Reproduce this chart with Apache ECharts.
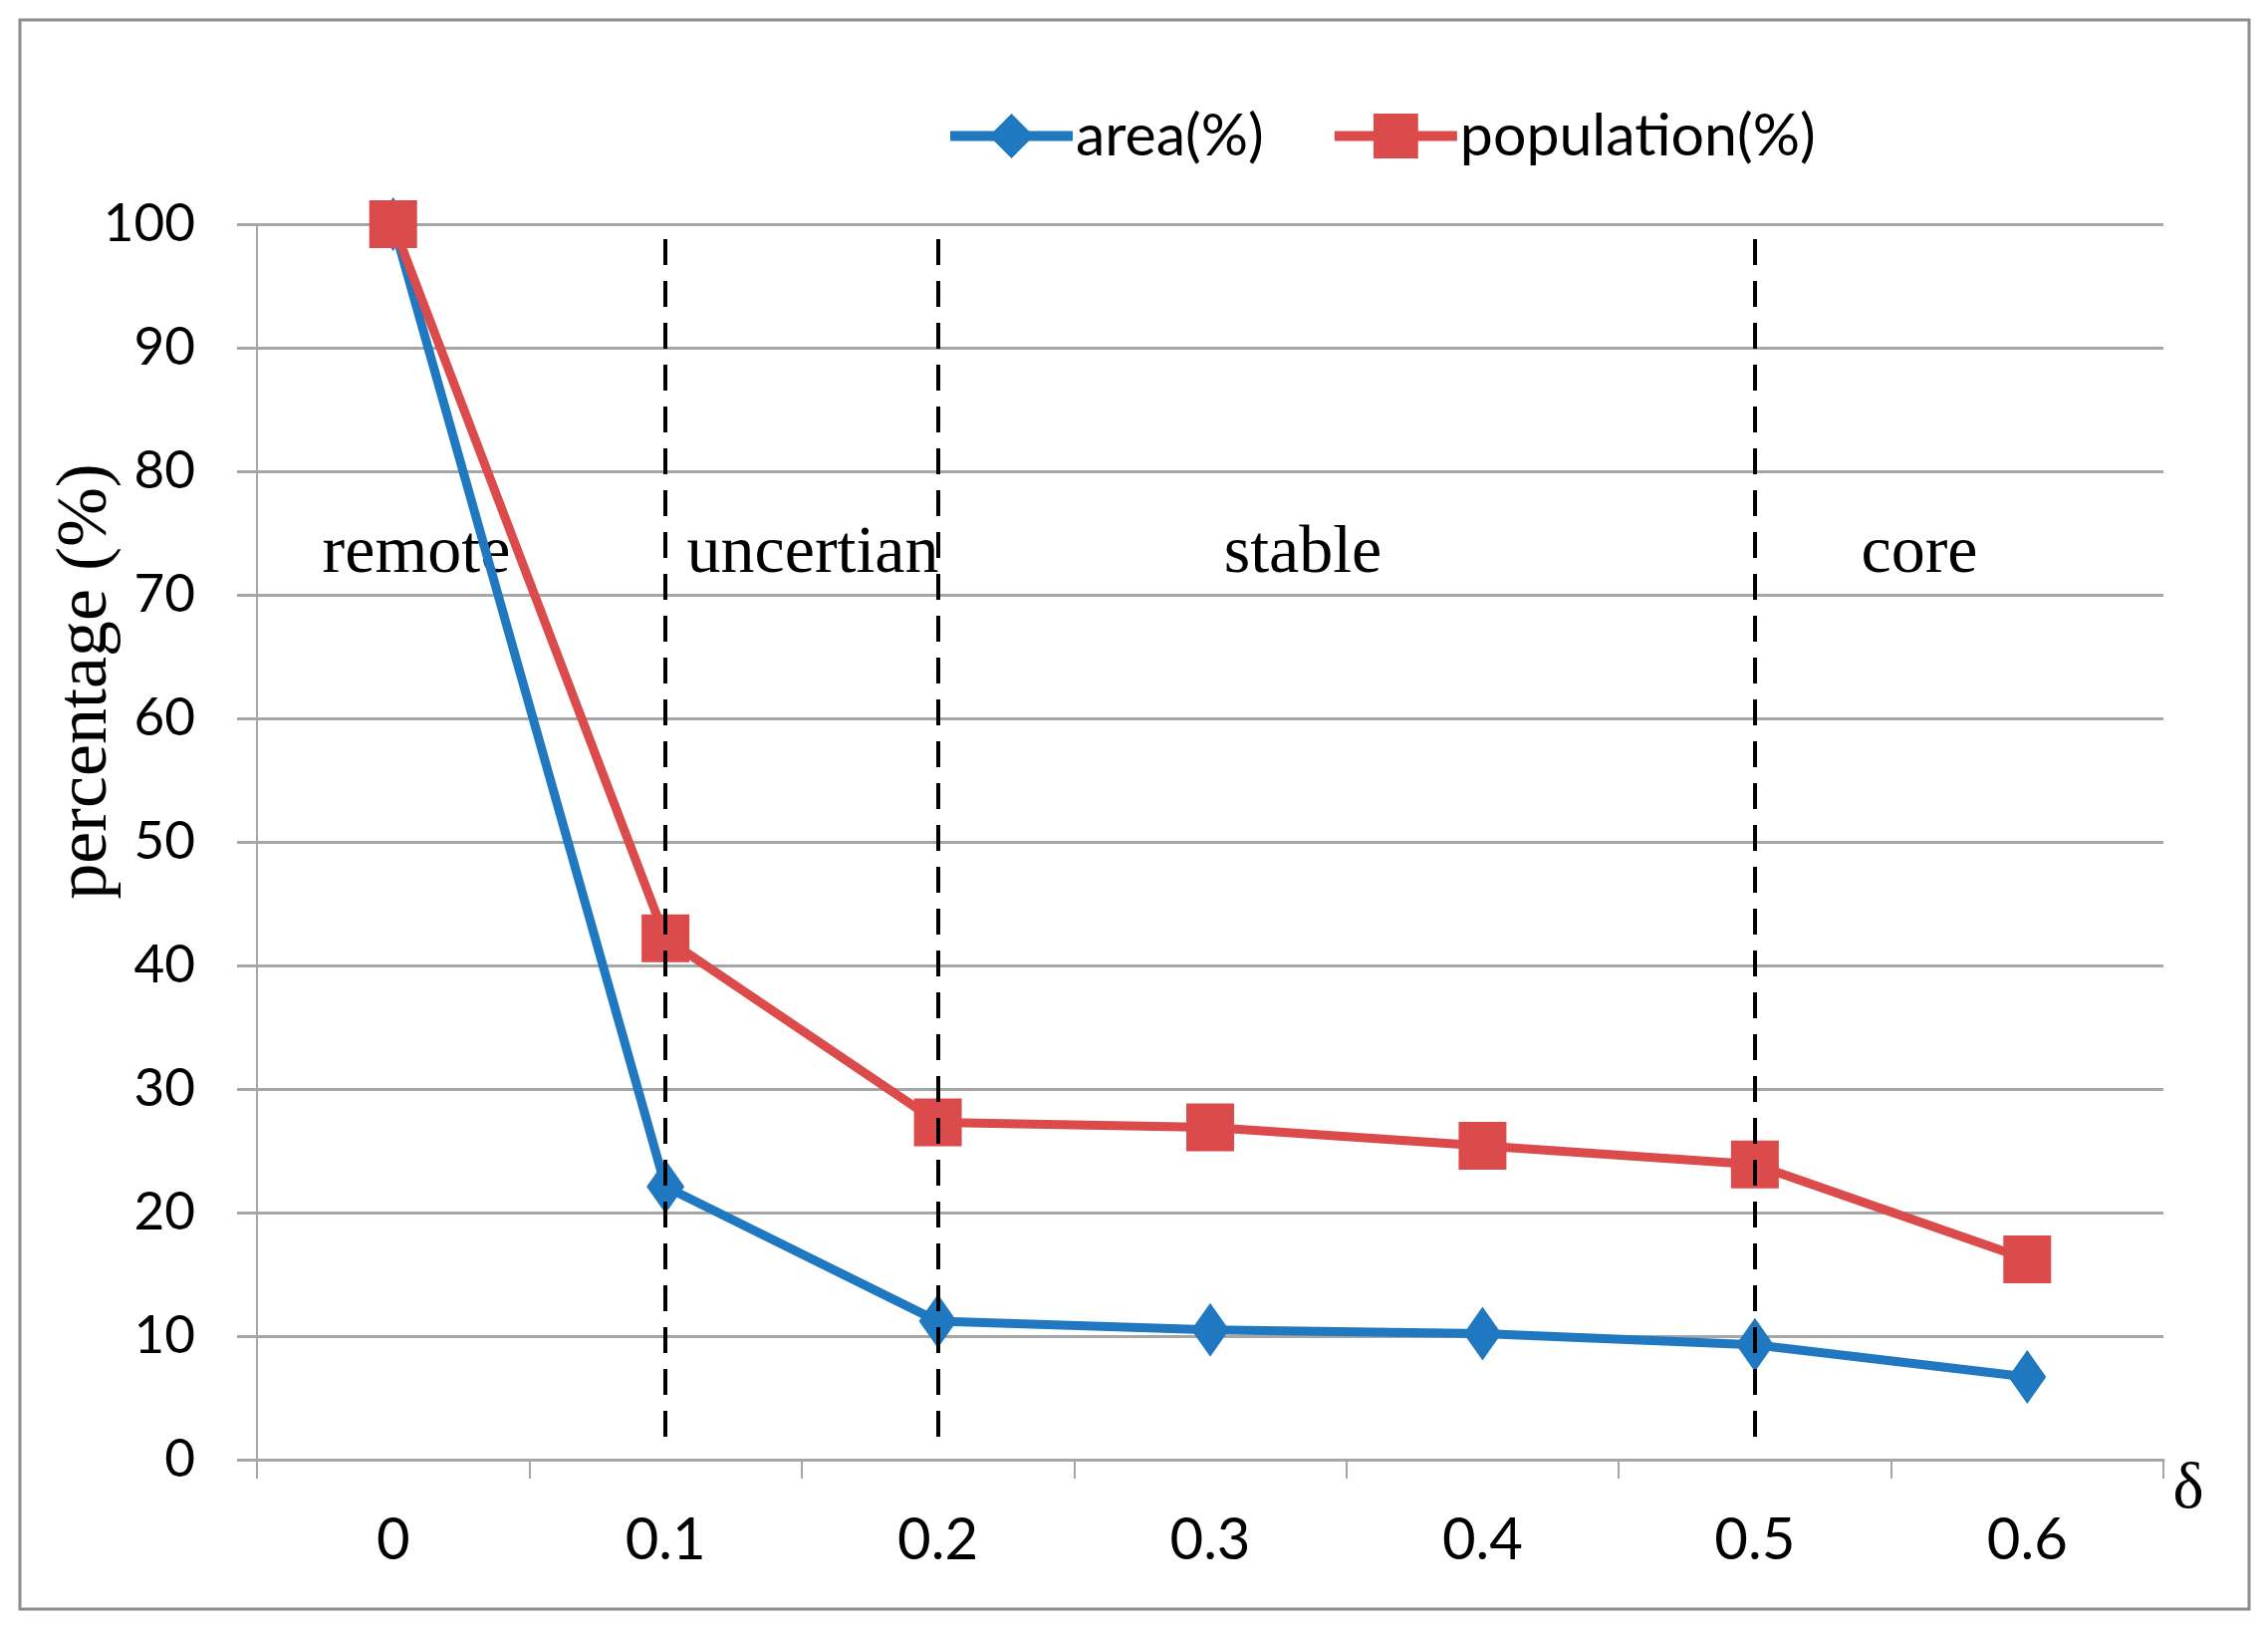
<!DOCTYPE html>
<html>
<head>
    <meta charset="UTF-8">
    <title>area / population</title>
    <script src="https://cdn.jsdelivr.net/npm/echarts@6/dist/echarts.min.js"></script>
    <style type="text/css">
        html, body, #main {
            height: 100%;
            width: 100%;
            margin: 0;
            padding: 0;
            background: #fff;
        }
    </style>
</head>
<body>
<div id="main"></div>
<script type="text/javascript">
    // data
    var deltas = ['0', '0.1', '0.2', '0.3', '0.4', '0.5', '0.6'];
    var areaPct = [100, 22.1, 11.2, 10.5, 10.2, 9.3, 6.7];
    var popPct = [100, 42.2, 27.3, 26.9, 25.4, 23.9, 16.2];
    var yTicks = [0, 10, 20, 30, 40, 50, 60, 70, 80, 90, 100];
    // zone boundaries (dashed lines) and zone names
    var cuts = ['0.1', '0.2', '0.5'];
    var zones = ['remote', 'uncertian', 'stable', 'core'];
    var zoneX = [418, 816, 1308, 1927];

    var blue = '#1f78c0';
    var red = '#db4b4b';
    var grey = '#a6a6a6';
    var sans = 'Lato, "Open Sans", sans-serif';
    var serif = '"Liberation Serif", "DejaVu Serif", serif';

    var mycharts = echarts.init(document.getElementById('main'));

    var cutLines = cuts.map(function (c) {
        return [{coord: [c, 98.8]}, {coord: [c, 1]}];
    });

    // centred text placed at a pixel anchor
    function label(txt, x, y, size, rot) {
        return {
            type: 'text',
            x: x,
            y: y,
            rotation: rot || 0,
            silent: true,
            style: {
                text: txt,
                textAlign: 'center',
                textVerticalAlign: 'middle',
                font: size + 'px ' + serif,
                fill: '#000'
            }
        };
    }

    var zoneText = zones.map(function (z, i) {
        return label(z, zoneX[i], 556, 68);
    });

    var option = {
        animation: false,
        backgroundColor: '#fff',
        grid: {left: 258, right: 105, top: 225, bottom: 175},
        legend: {
            top: 102,
            left: 944,
            itemWidth: 123,
            itemHeight: 56,
            itemGap: 66,
            lineStyle: {width: 10},
            textStyle: {fontFamily: sans, fontSize: 59, color: '#000', padding: [0, 0, 0, -2]},
            data: ['area(%)', 'population(%)']
        },
        xAxis: {
            type: 'category',
            data: deltas,
            boundaryGap: true,
            axisLine: {lineStyle: {color: grey, width: 3}},
            axisTick: {show: true, length: 19, lineStyle: {color: grey, width: 2}},
            axisLabel: {margin: 52, fontFamily: sans, fontSize: 58, color: '#000'},
            splitLine: {show: false}
        },
        yAxis: {
            type: 'value',
            min: 0,
            max: 100,
            interval: 10,
            axisLine: {show: true, lineStyle: {color: grey, width: 2}},
            axisTick: {show: true, length: 20, lineStyle: {color: grey, width: 3}},
            axisLabel: {
                margin: 62, fontFamily: sans, fontSize: 53, color: '#000',
                formatter: function (v) { return yTicks.indexOf(v) >= 0 ? String(v) : ''; }
            },
            splitLine: {lineStyle: {color: grey, width: 3}}
        },
        series: [
            {
                name: 'area(%)',
                type: 'line',
                data: areaPct,
                symbol: 'diamond',
                symbolSize: [38, 54],
                lineStyle: {color: blue, width: 9},
                itemStyle: {color: blue},
                z: 3
            },
            {
                name: 'population(%)',
                type: 'line',
                data: popPct,
                symbol: 'rect',
                symbolSize: 48,
                lineStyle: {color: red, width: 9},
                itemStyle: {color: red},
                z: 4,
                markLine: {
                    silent: true,
                    symbol: ['none', 'none'],
                    label: {show: false},
                    lineStyle: {color: '#000', width: 4, type: [26, 16]},
                    data: cutLines,
                    z: 5
                }
            }
        ],
        graphic: [
            {
                type: 'rect',
                shape: {x: 20, y: 20, width: 2238, height: 1595},
                style: {fill: 'none', stroke: '#8c8c8c', lineWidth: 3},
                silent: true
            },
            label('percentage (%)', 87, 684, 72, Math.PI / 2),
            label('δ', 2197, 1496, 66)
        ].concat(zoneText)
    };

    mycharts.setOption(option);
</script>
</body>
</html>
